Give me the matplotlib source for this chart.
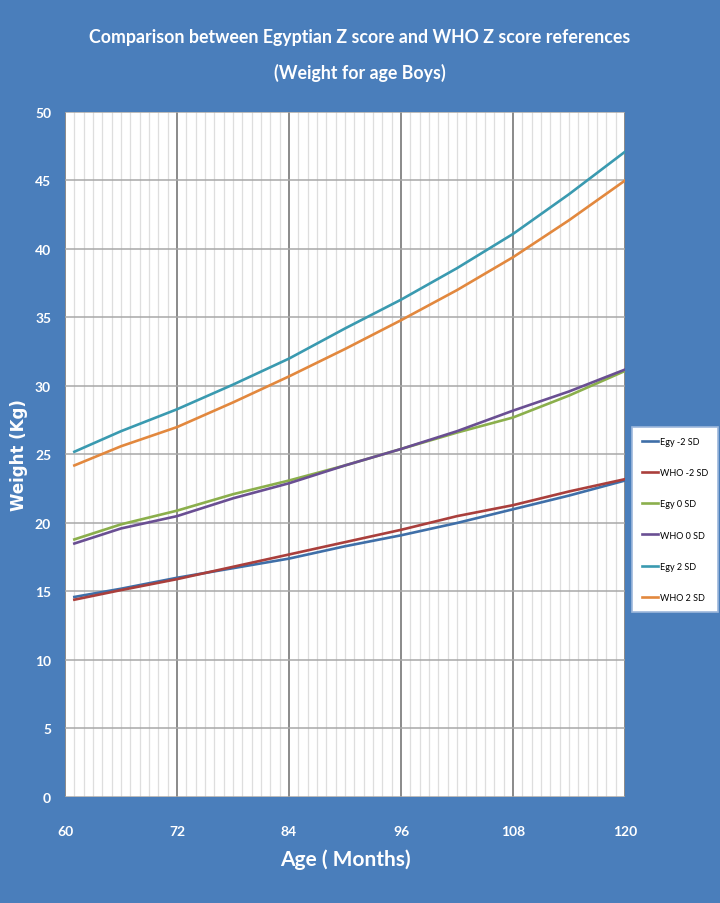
import matplotlib
matplotlib.use("Agg")
import matplotlib.pyplot as plt
from matplotlib.ticker import MultipleLocator

# data (weight in kg by age in months)
months = [61, 66, 72, 78, 84, 90, 96, 102, 108, 114, 120]
egy_m2 = [14.6, 15.2, 16.0, 16.7, 17.4, 18.3, 19.1, 20.0, 21.0, 22.0, 23.1]
who_m2 = [14.4, 15.1, 15.9, 16.8, 17.7, 18.6, 19.5, 20.5, 21.3, 22.3, 23.2]
egy_0 = [18.8, 19.9, 20.9, 22.1, 23.1, 24.2, 25.4, 26.6, 27.7, 29.3, 31.1]
who_0 = [18.5, 19.6, 20.5, 21.8, 22.9, 24.2, 25.4, 26.7, 28.2, 29.6, 31.2]
egy_2 = [25.2, 26.7, 28.3, 30.1, 32.0, 34.2, 36.3, 38.6, 41.1, 44.0, 47.1]
who_2 = [24.2, 25.6, 27.0, 28.8, 30.7, 32.7, 34.8, 37.0, 39.4, 42.1, 45.0]

series = [
    ("Egy -2 SD", egy_m2, "#3F6FA8"),
    ("WHO -2 SD", who_m2, "#AA3F3C"),
    ("Egy 0 SD", egy_0, "#8BAF4C"),
    ("WHO 0 SD", who_0, "#6A4F93"),
    ("Egy 2 SD", egy_2, "#3A9AB0"),
    ("WHO 2 SD", who_2, "#E2883E"),
]

bg = "#4A7EBB"
font = "Lato"

fig = plt.figure(figsize=(7.2, 9.04), dpi=100)
fig.patch.set_facecolor(bg)
ax = fig.add_axes([0.0903, 0.1173, 0.7778, 0.7577])
ax.set_facecolor("white")

for name, vals, col in series:
    ax.plot(months, vals, color=col, lw=1.9, label=name, zorder=3)

ax.set_xlim(60, 120)
ax.set_ylim(0, 50)
ax.xaxis.set_major_locator(MultipleLocator(12))
ax.xaxis.set_minor_locator(MultipleLocator(1))
ax.yaxis.set_major_locator(MultipleLocator(5))

# grid: monthly minor lines, darker yearly lines
ax.grid(which="minor", axis="x", color="#dedede", lw=0.9)
ax.grid(which="major", axis="x", color="#8a8a8a", lw=1.4)
ax.grid(which="major", axis="y", color="#a8a8a8", lw=1.1)
ax.set_axisbelow(True)

for s in ax.spines.values():
    s.set_visible(False)

ax.tick_params(which="both", length=0)
ax.tick_params(axis="x", pad=20)
ax.tick_params(axis="y", pad=10)
for lab in ax.get_xticklabels() + ax.get_yticklabels():
    lab.set_family(font)
    lab.set_fontweight("bold")
    lab.set_fontsize(10)
    lab.set_color("white")

ax.set_xlabel("Age ( Months)", family=font, fontsize=15, fontweight="bold",
              color="white")
ax.xaxis.set_label_coords(0.5, -0.075)
ax.set_ylabel("Weight (Kg)", fontsize=12, fontweight="bold", color="white")
ax.yaxis.set_label_coords(-0.066, 0.5)

fig.text(0.5, 0.958, "Comparison between Egyptian Z score and WHO Z score references",
         ha="center", va="center", family=font, fontsize=12.8, fontweight="bold",
         color="white")
fig.text(0.5, 0.919, "(Weight for age Boys)", ha="center", va="center",
         family=font, fontsize=12.8, fontweight="bold", color="white")

leg = ax.legend(loc="center left", bbox_to_anchor=(1.01, 0.405), frameon=True,
                fancybox=False, framealpha=1, handlelength=1.7, handletextpad=0.2,
                labelspacing=2.45, borderpad=1.1, borderaxespad=0.2,
                prop={"family": font, "size": 6.5})
leg.get_frame().set_edgecolor("#9DB8DC")
leg.get_frame().set_linewidth(1.2)
leg.get_frame().set_facecolor("white")

fig.savefig("out.png", dpi=100, facecolor=fig.get_facecolor())
